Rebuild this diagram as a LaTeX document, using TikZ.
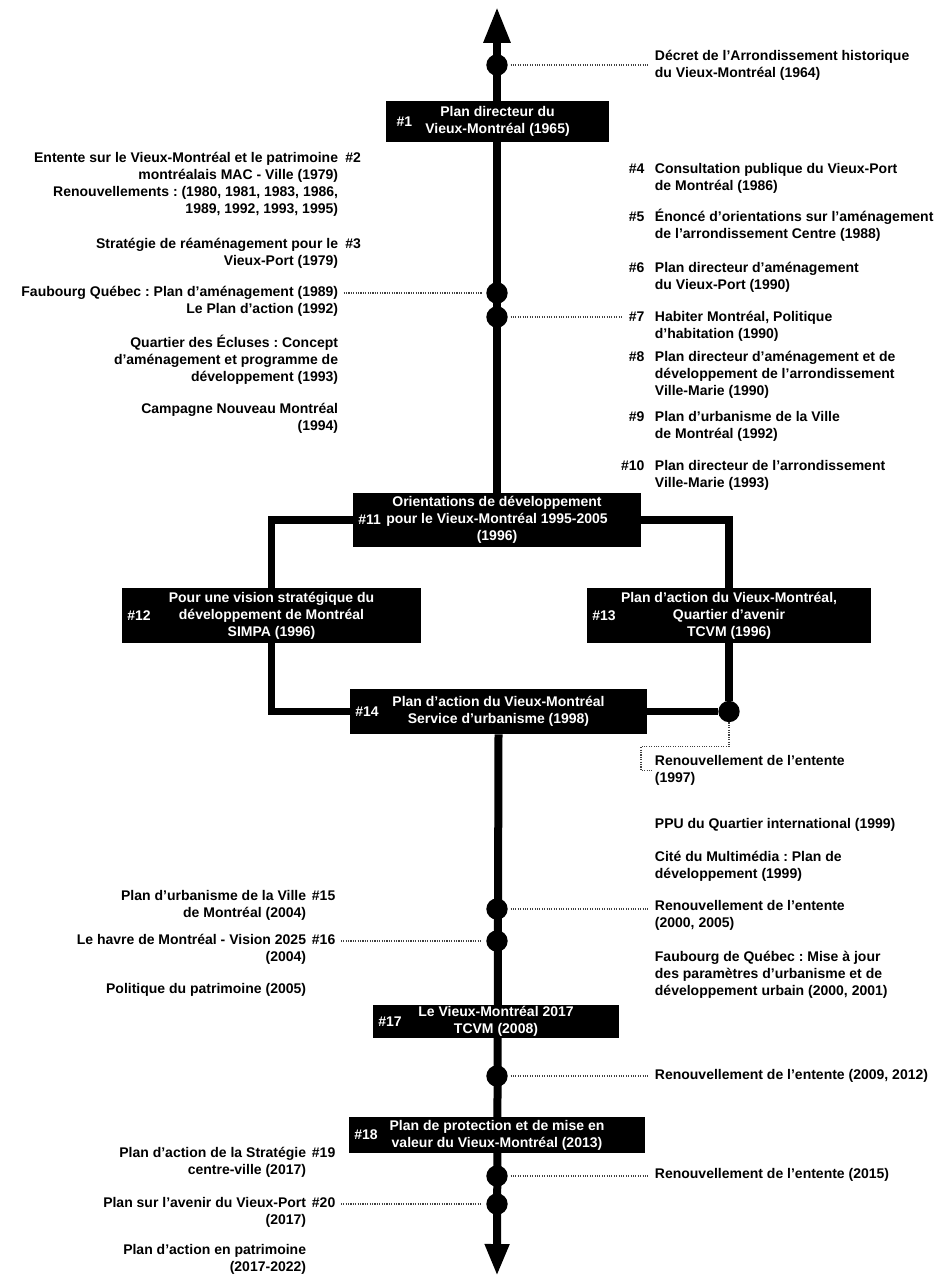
\documentclass[tikz,border=0pt]{standalone}
\usepackage{fontspec}
\setmainfont{Liberation Sans}
\frenchspacing
\usetikzlibrary{positioning,arrows.meta,backgrounds}
\newcommand{\notefont}{\fontsize{10.5pt}{12.75pt}\selectfont\bfseries}
\tikzset{
  note/.style={font=\notefont, inner sep=2pt},
  rnote/.style={note, anchor=west, align=left},
  lnote/.style={note, anchor=east, align=right},
  num/.style={font=\notefont, inner sep=2pt},
  lineup/.style={yshift=#1*12.75pt},
  plan/.style={fill=black, text=white, font=\notefont, align=center, inner sep=0pt},
  event/.style={circle, fill=black, minimum size=16pt, inner sep=0pt},
  spine/.style={line width=6pt},
  branch/.style={line width=5.5pt},
  leader/.style={densely dotted, line width=0.8pt, black!75, shorten <=2pt, shorten >=3pt},
}
\begin{document}
\begin{tikzpicture}[x=0.75pt,y=-0.75pt]
\useasboundingbox (0,0) rectangle (947,1276);
\coordinate (top) at (497,7);
\coordinate (bottom) at (497,1276);

\node (b1) [plan, minimum width=167.25pt, minimum height=30.75pt] at (497.5,121.5) {Plan directeur du\\Vieux-Montréal (1965)};
\node (h1) [num, text=white, right=6pt of b1.west] {\#1};
\node (b11) [plan, minimum width=216pt, minimum height=40.5pt] at (497,520) {Orientations de développement\\pour le Vieux-Montréal 1995-2005\\(1996)};
\node (h11) [num, text=white, right=2pt of b11.west] {\#11};
\node (b12) [plan, minimum width=224.25pt, minimum height=41.25pt] at (271.5,615.5) {Pour une vision stratégique du\\développement de Montréal\\SIMPA (1996)};
\node (h12) [num, text=white, right=2pt of b12.west] {\#12};
\node (b13) [plan, minimum width=213pt, minimum height=41.25pt] at (729,615.5) {Plan d’action du Vieux-Montréal,\\Quartier d’avenir\\TCVM (1996)};
\node (h13) [num, text=white, right=2pt of b13.west] {\#13};
\node (b14) [plan, minimum width=222.75pt, minimum height=33.75pt] at (498.5,711.5) {Plan d’action du Vieux-Montréal\\Service d’urbanisme (1998)};
\node (h14) [num, text=white, right=2pt of b14.west] {\#14};
\node (b17) [plan, minimum width=184.5pt, minimum height=24.75pt] at (496,1021.5) {Le Vieux-Montréal 2017\\TCVM (2008)};
\node (h17) [num, text=white, right=2pt of b17.west] {\#17};
\node (b18) [plan, minimum width=222pt, minimum height=27pt] at (497,1135) {Plan de protection et de mise en\\valeur du Vieux-Montréal (2013)};
\node (h18) [num, text=white, right=2pt of b18.west] {\#18};

\node (d64) [event] at (497,65) {};
\node (d89) [event] at (497,293) {};
\node (d90) [event] at (497,317) {};
\node (d97) [event] at (b13.south |- b14.east) {};
\node (d00) [event] at (497,909) {};
\node (d04) [event] at (497,941) {};
\node (d09) [event] at (497,1076) {};
\node (d15) [event] at (497,1176) {};
\node (d17) [event] at (497,1204) {};

\node (n0) [rnote] at (652,65) {Décret de l’Arrondissement historique\\du Vieux-Montréal (1964)};
\node (n4) [rnote] at (652,178.5) {Consultation publique du Vieux-Port\\de Montréal (1986)};
\node (h4) [num, left=3.5pt of n4.base west, anchor=base east, lineup=1] {\#4};
\node (n5) [rnote] at (652,225) {Énoncé d’orientations sur l’aménagement\\de l’arrondissement Centre (1988)};
\node (h5) [num, left=3.5pt of n5.base west, anchor=base east, lineup=1] {\#5};
\node (n6) [rnote] at (652,277) {Plan directeur d’aménagement\\du Vieux-Port (1990)};
\node (h6) [num, left=3.5pt of n6.base west, anchor=base east, lineup=1] {\#6};
\node (n7) [rnote] at (652,326.5) {Habiter Montréal, Politique\\d’habitation (1990)};
\node (h7) [num, left=3.5pt of n7.base west, anchor=base east, lineup=1] {\#7};
\node (n8) [rnote] at (652,374.5) {Plan directeur d’aménagement et de\\développement de l’arrondissement\\Ville-Marie (1990)};
\node (h8) [num, left=3.5pt of n8.base west, anchor=base east, lineup=2] {\#8};
\node (n9) [rnote] at (652,426.5) {Plan d’urbanisme de la Ville\\de Montréal (1992)};
\node (h9) [num, left=3.5pt of n9.base west, anchor=base east, lineup=1] {\#9};
\node (n10) [rnote] at (652,475.5) {Plan directeur de l’arrondissement\\Ville-Marie (1993)};
\node (h10) [num, left=3.5pt of n10.base west, anchor=base east, lineup=1] {\#10};
\node (r97) [rnote] at (652,770.5) {Renouvellement de l’entente\\(1997)};
\node (ppu) [rnote] at (652,825) {PPU du Quartier international (1999)};
\node (cite) [rnote] at (652,866) {Cité du Multimédia : Plan de\\développement (1999)};
\node (r00) [rnote] at (652,915.5) {Renouvellement de l’entente\\(2000, 2005)};
\node (fdq) [rnote] at (652,975) {Faubourg de Québec : Mise à jour\\des paramètres d’urbanisme et de\\développement urbain (2000, 2001)};
\node (r09) [rnote] at (652,1076) {Renouvellement de l’entente (2009, 2012)};
\node (r15) [rnote] at (652,1175) {Renouvellement de l’entente (2015)};

\node (n2) [lnote] at (341,184.5) {Entente sur le Vieux-Montréal et le patrimoine\\montréalais MAC - Ville (1979)\\Renouvellements : (1980, 1981, 1983, 1986,\\1989, 1992, 1993, 1995)};
\node (h2) [num, right=1pt of n2.base east, anchor=base west, lineup=3] {\#2};
\node (n3) [lnote] at (341,253.5) {Stratégie de réaménagement pour le\\Vieux-Port (1979)};
\node (h3) [num, right=1pt of n3.base east, anchor=base west, lineup=1] {\#3};
\node (fq) [lnote] at (341,301.5) {Faubourg Québec : Plan d’aménagement (1989)\\Le Plan d’action (1992)};
\node (qe) [lnote] at (341,360) {Quartier des Écluses : Concept\\d’aménagement et programme de\\développement (1993)};
\node (cnm) [lnote] at (341,418) {Campagne Nouveau Montréal\\(1994)};
\node (n15) [lnote] at (309,905.5) {Plan d’urbanisme de la Ville\\de Montréal (2004)};
\node (h15) [num, right=0pt of n15.base east, anchor=base west, lineup=1] {\#15};
\node (n16) [lnote] at (309,949.5) {Le havre de Montréal - Vision 2025\\(2004)};
\node (h16) [num, right=0pt of n16.base east, anchor=base west, lineup=1] {\#16};
\node (pat) [lnote] at (309,990) {Politique du patrimoine (2005)};
\node (n19) [lnote] at (309,1162.5) {Plan d’action de la Stratégie\\centre-ville (2017)};
\node (h19) [num, right=0pt of n19.base east, anchor=base west, lineup=1] {\#19};
\node (n20) [lnote] at (309,1212) {Plan sur l’avenir du Vieux-Port\\(2017)};
\node (h20) [num, right=0pt of n20.base east, anchor=base west, lineup=1] {\#20};
\node (pap) [lnote] at (309,1259.5) {Plan d’action en patrimoine\\(2017-2022)};

\begin{scope}[on background layer]
\draw[spine, {Triangle[length=27pt,width=19pt]}-] (top) -- (b11.north);
\draw[spine, -{Triangle[length=24pt,width=17pt]}] (b14.south) -- (bottom);
\draw[branch] (b11.west) -| (b12.north);
\draw[branch] (b11.east) -| (b13.north);
\draw[branch] (b12.south) |- (b14.west);
\draw[branch] (b13.south) -- (d97);
\draw[branch] (b14.east) -- (d97);
\draw[leader] (d64.east) -- (d64 -| n0.west);
\draw[leader] (d90.east) -- (d90 -| h7.west);
\draw[leader] (d00.east) -- (d00 -| r00.west);
\draw[leader] (d09.east) -- (d09 -| r09.west);
\draw[leader] (d15.east) -- (d15 -| r15.west);
\draw[leader] (d89 -| fq.east) -- (d89.west);
\draw[leader] (d04 -| h16.east) -- (d04.west);
\draw[leader] (d17 -| h20.east) -- (d17.west);
\draw[leader, shorten <=0pt, shorten >=0pt] (d97.south) |- ++(-88,24) |- (r97.west);
\end{scope}
\end{tikzpicture}
\end{document}
